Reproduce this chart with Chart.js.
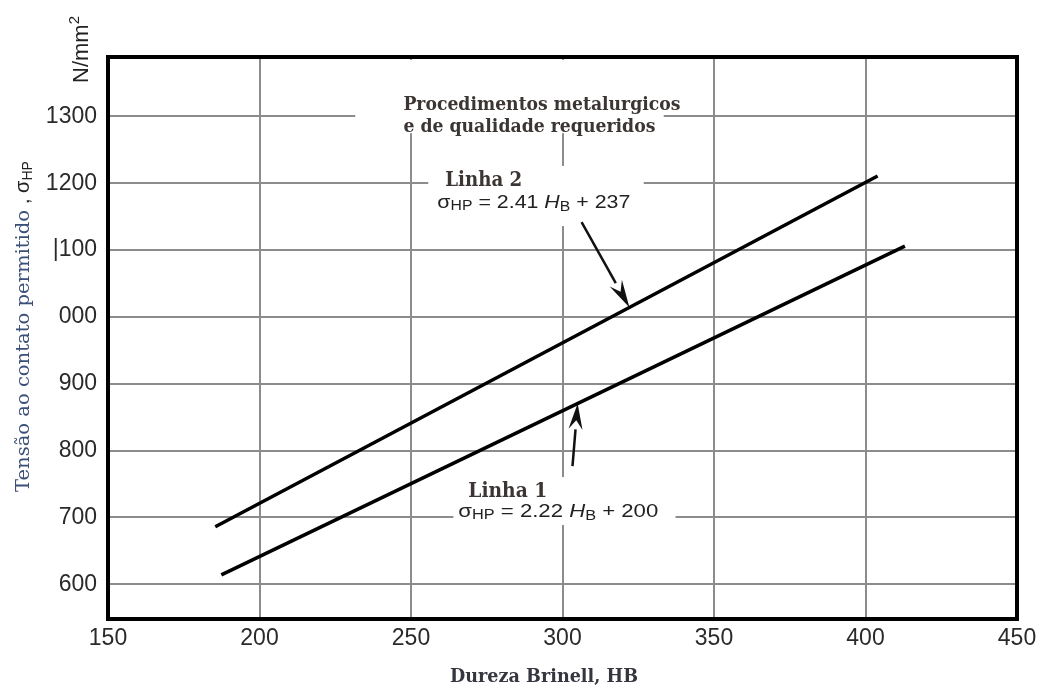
<!DOCTYPE html>
<html>
<head>
<meta charset="utf-8">
<script src="https://cdn.jsdelivr.net/npm/chart.js@4.4.1/dist/chart.umd.min.js"></script>
<style>
  html, body { margin: 0; padding: 0; background: #ffffff; }
  #wrap { width: 1037px; height: 686px; position: relative; }
</style>
</head>
<body>
<div id="wrap"><canvas id="c" width="1037" height="686"></canvas></div>
<script>
// ---- data ----
const xTicks = [150, 200, 250, 300, 350, 400, 450];
const yTicks = [600, 700, 800, 900, 1000, 1100, 1200, 1300];
const yTickLabels = ['600', '700', '800', '900', '000', '|100', '1200', '1300'];

// Linha 1 : sigma_HP = 2.22 HB + 200 (endpoints)
const linha1HB = [187.4, 413];
const linha1Sigma = [614, 1106];
// Linha 2 : sigma_HP = 2.41 HB + 237
const linha2HB = [185.4, 404];
const linha2Sigma = [686, 1211];

const toPoints = (xs, ys) => xs.map((x, i) => ({ x: x, y: ys[i] }));

const SANS = "'Liberation Sans', Arial, sans-serif";
const SERIF = "'DejaVu Serif', 'Liberation Serif', serif";

// draw a sequence of text runs, horizontally scaled to a target width
function drawRuns(ctx, runs, x, y, targetW, rotate) {
  ctx.save();
  let total = 0;
  runs.forEach(r => { ctx.font = r.f; total += ctx.measureText(r.t).width; });
  const s = targetW ? targetW / total : 1;
  ctx.translate(x, y);
  if (rotate) ctx.rotate(-Math.PI / 2);
  ctx.scale(s, 1);
  ctx.textBaseline = 'alphabetic';
  ctx.textAlign = 'left';
  let cx = 0;
  runs.forEach(r => {
    ctx.font = r.f;
    ctx.fillStyle = r.c || '#222';
    ctx.fillText(r.t, cx, r.dy || 0);
    cx += ctx.measureText(r.t).width;
  });
  ctx.restore();
}

function arrow(ctx, x0, y0, x1, y1, headLen, headW) {
  const ang = Math.atan2(y1 - y0, x1 - x0);
  const bx = x1 - headLen * Math.cos(ang), by = y1 - headLen * Math.sin(ang);
  ctx.save();
  ctx.strokeStyle = '#111';
  ctx.fillStyle = '#111';
  ctx.lineWidth = 2.5;
  ctx.beginPath(); ctx.moveTo(x0, y0); ctx.lineTo(bx, by); ctx.stroke();
  const px = -Math.sin(ang) * headW / 2, py = Math.cos(ang) * headW / 2;
  ctx.beginPath();
  ctx.moveTo(x1, y1);
  ctx.lineTo(bx + px, by + py);
  ctx.lineTo(bx + 0.35 * headLen * Math.cos(ang), by + 0.35 * headLen * Math.sin(ang));
  ctx.lineTo(bx - px, by - py);
  ctx.closePath();
  ctx.fill();
  ctx.restore();
}

const decor = {
  id: 'decor',
  beforeDatasetsDraw(chart) {
    const ctx = chart.ctx, xs = chart.scales.x, ys = chart.scales.y, a = chart.chartArea;
    const X = v => xs.getPixelForValue(v), Y = v => ys.getPixelForValue(v);
    // white label backgrounds that interrupt the grid
    const boxes = [
      [231.6, 333.4, 1275, ys.max],
      [255.7, 326.8, 1136, 1226],
      [264.0, 337.3, 688.6, 760.4]
    ];
    ctx.save();
    ctx.fillStyle = '#ffffff';
    boxes.forEach(b => {
      const x0 = X(b[0]), x1 = X(b[1]), y0 = Math.max(Y(b[3]), a.top + 3), y1 = Y(b[2]);
      ctx.fillRect(x0, y0, x1 - x0, y1 - y0);
    });
    ctx.restore();

    // frame
    ctx.save();
    ctx.strokeStyle = '#000';
    ctx.lineWidth = 4;
    ctx.strokeRect(a.left, a.top, a.right - a.left, a.bottom - a.top);
    ctx.restore();

    const bold = 'bold 19px ' + SERIF;
    const tc = '#3b3633';
    drawRuns(ctx, [{ t: 'Procedimentos metalurgicos', f: bold, c: tc }], X(247.5), Y(1309.5), 277);
    drawRuns(ctx, [{ t: 'e de qualidade requeridos', f: bold, c: tc }], X(247.5), Y(1276.6), 252);
    drawRuns(ctx, [{ t: 'Linha 2', f: 'bold 20px ' + SERIF, c: tc }], X(261.3), Y(1195.8), 77);
    drawRuns(ctx, [{ t: 'Linha 1', f: 'bold 20px ' + SERIF, c: tc }], X(268.9), Y(730.4), 79);

    const big = '19px ' + SANS, sub = '14px ' + SANS, it = 'italic 19px ' + SANS;
    drawRuns(ctx, [
      { t: 'σ', f: big }, { t: 'HP', f: sub, dy: 2 }, { t: ' = 2.41 ', f: big },
      { t: 'H', f: it }, { t: 'B', f: sub, dy: 3 }, { t: ' + 237', f: big }
    ], X(258.7), Y(1162.9), 193);
    drawRuns(ctx, [
      { t: 'σ', f: big }, { t: 'HP', f: sub, dy: 2 }, { t: ' = 2.22 ', f: big },
      { t: 'H', f: it }, { t: 'B', f: sub, dy: 3 }, { t: ' + 200', f: big }
    ], X(265.6), Y(700.5), 200);

    // axis titles
    drawRuns(ctx, [{ t: 'Dureza Brinell, HB', f: 'bold 19px ' + SERIF, c: '#35363f' }], 450, 682, 188);
    drawRuns(ctx, [{ t: 'Tensão ao contato permitido', f: '19px ' + SERIF, c: '#3b5078' }], 29, 492, 282, true);
    drawRuns(ctx, [
      { t: ', σ', f: '20px ' + SANS, c: '#222' }, { t: 'HP', f: '14px ' + SANS, c: '#222', dy: 3 }
    ], 29, 204, 0, true);
    drawRuns(ctx, [
      { t: 'N/mm', f: '22px ' + SANS, c: '#222' }, { t: '2', f: '15px ' + SANS, c: '#222', dy: -9 }
    ], 88, 83, 0, true);
  },
  afterDatasetsDraw(chart) {
    const ctx = chart.ctx, xs = chart.scales.x, ys = chart.scales.y;
    const X = v => xs.getPixelForValue(v), Y = v => ys.getPixelForValue(v);
    arrow(ctx, X(306.3), Y(1142), X(322.1), Y(1014), 28, 14);
    arrow(ctx, X(303.3), Y(776.8), X(305.0), Y(870.5), 26, 14);
  }
};

new Chart(document.getElementById('c'), {
  type: 'scatter',
  data: {
    datasets: [
      { label: 'Linha 1', data: toPoints(linha1HB, linha1Sigma), showLine: true,
        borderColor: '#000', borderWidth: 3.5, pointRadius: 0, fill: false },
      { label: 'Linha 2', data: toPoints(linha2HB, linha2Sigma), showLine: true,
        borderColor: '#000', borderWidth: 3.5, pointRadius: 0, fill: false }
    ]
  },
  options: {
    responsive: false,
    devicePixelRatio: 1,
    animation: false,
    layout: { padding: { top: 57, right: 20, left: 0, bottom: 0 } },
    plugins: { legend: { display: false }, tooltip: { enabled: false }, title: { display: false } },
    scales: {
      x: {
        type: 'linear', min: 150, max: 450,
        afterBuildTicks: s => { s.ticks = xTicks.map(v => ({ value: v })); },
        afterFit: s => { s.height = 67; s.paddingRight = 0; s.paddingLeft = 0; },
        grid: { color: '#8c8c8c', lineWidth: 2, drawTicks: false },
        border: { display: false },
        ticks: { color: '#2a2a2a', font: { family: SANS, size: 23 }, padding: 6, maxRotation: 0, autoSkip: false }
      },
      y: {
        type: 'linear', min: 548, max: 1389,
        afterBuildTicks: s => { s.ticks = yTicks.map(v => ({ value: v })); },
        afterFit: s => { s.width = 108; },
        grid: { color: '#8c8c8c', lineWidth: 2, drawTicks: false },
        border: { display: false },
        ticks: { color: '#2a2a2a', font: { family: SANS, size: 23 }, padding: 11, autoSkip: false,
                 callback: (v, i) => yTickLabels[i] }
      }
    }
  },
  plugins: [decor]
});
</script>
</body>
</html>
